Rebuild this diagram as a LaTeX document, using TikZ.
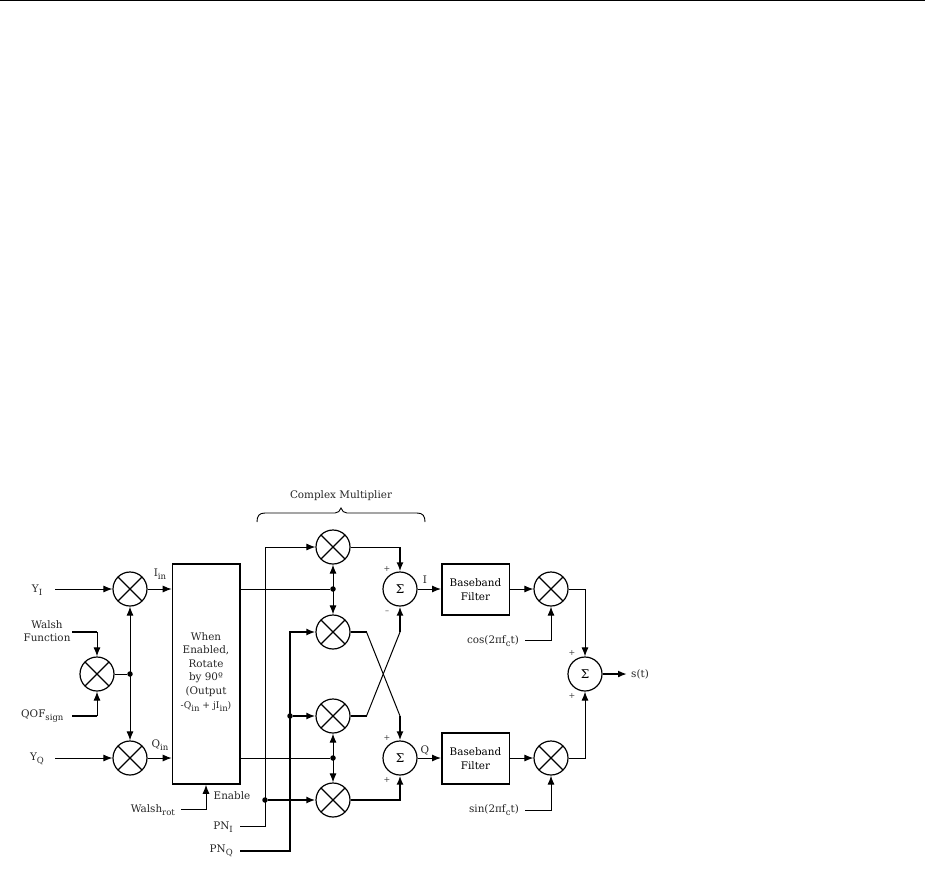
\documentclass[tikz,border=0pt]{standalone}
\usepackage{fontspec}
\setmainfont{DejaVu Serif}
\usetikzlibrary{arrows.meta}
\newcommand{\lowtx}[1]{\raisebox{-0.55ex}{\fontsize{8.5pt}{9pt}\selectfont #1}}
\tikzset{
  x=1pt,y=-1pt,
  thinw/.style={line width=1pt},
  thickw/.style={line width=2pt},
  arr/.style={-{Latex[length=9pt,width=7pt]}},
  darr/.style={{Latex[length=9pt,width=7pt]}-{Latex[length=9pt,width=7pt]},thinw},
  mult/.style={circle,draw,line width=1.2pt,minimum size=34pt,inner sep=0pt,
    path picture={\draw[line width=1.2pt] (path picture bounding box.north west)--(path picture bounding box.south east)
      (path picture bounding box.north east)--(path picture bounding box.south west);}},
  summ/.style={circle,draw,line width=1.2pt,minimum size=34pt,inner sep=0pt,font=\fontsize{12pt}{14pt}\selectfont},
  blk/.style={draw,line width=1.5pt,inner sep=0pt,align=center},
  lab/.style={inner sep=0pt,font=\fontsize{10.4pt}{13.5pt}\selectfont,text=black!85},
  sgn/.style={inner sep=0pt,font=\fontsize{8pt}{9pt}\selectfont,text=black!75},
  dotn/.style={circle,fill=black,inner sep=0pt,minimum size=5.5pt},
}
\begin{document}
\begin{tikzpicture}
\useasboundingbox (0,0) rectangle (925,870);
\coordinate (rl) at (0,0.8); \coordinate (rr) at (925,0.8);
\draw[line width=1.2pt] (rl)--(rr);
% multipliers
\node[mult] (m1) at (130,589) {};
\node[mult] (m2) at (97,674) {};
\node[mult] (m3) at (130,758) {};
\node[mult] (c1) at (333,547) {};
\node[mult] (c2) at (333,632) {};
\node[mult] (c3) at (333,716) {};
\node[mult] (c4) at (333,800) {};
\node[mult] (m5) at (551,589) {};
\node[mult] (m6) at (551,758) {};
% sums
\node[summ] (s1) at (400,589) {Σ};
\node[summ] (s2) at (400,758) {Σ};
\node[summ] (s3) at (585,674) {Σ};
% boxes
\node[blk,minimum width=67.5pt,minimum height=220pt] (rot) at (206.2,674) {};
\node[blk,minimum width=67.5pt,minimum height=51pt,lab,text=black] (b1) at (475.5,589.5) {Baseband\\[0pt]Filter};
\node[blk,minimum width=67.5pt,minimum height=51pt,lab,text=black] (b2) at (475.5,758.5) {Baseband\\[0pt]Filter};
\node[lab,align=center,anchor=north] (rottxt) at (206,632) {When\\Enabled,\\Rotate\\by 90º\\(Output\\[1pt]{\fontsize{9.2pt}{10pt}\selectfont -Q\lowtx{in} + jI\lowtx{in})}};
% input labels
\node[lab] (yi) at (37,590) {Y\lowtx{I}};
\node[lab] (yq) at (37,759) {Y\lowtx{Q}};
\node[lab,align=center] (wf) at (47,631) {Walsh\\[0pt]Function};
\node[lab,anchor=west] (qof) at (21,716) {QOF\lowtx{sign}};
\node[lab] (iin) at (160,574) {I\lowtx{in}};
\node[lab] (qin) at (160,745) {Q\lowtx{in}};
\node[lab] (en) at (232,796) {Enable};
\node[lab,anchor=east] (wr) at (175,810) {Walsh\lowtx{rot}};
\node[lab,anchor=east] (pni) at (233,827) {PN\lowtx{I}};
\node[lab,anchor=east] (pnq) at (233,851) {PN\lowtx{Q}};
\node[lab] (cm) at (341,496) {Complex Multiplier};
\node[lab] (il) at (425,580) {I};
\node[lab] (ql) at (425,750) {Q};
\node[lab,anchor=east] (cosl) at (519,641) {cos(2πf\lowtx{c}t)};
\node[lab,anchor=east] (sinl) at (519,810) {sin(2πf\lowtx{c}t)};
\node[lab,anchor=west] (st) at (631,674) {s(t)};
% signs
\node[sgn] (p1) at (387,569) {+};
\node[sgn] (p2) at (387,612) {–};
\node[sgn] (p3) at (387,738) {+};
\node[sgn] (p4) at (387,780) {+};
\node[sgn] (p5) at (572,653) {+};
\node[sgn] (p6) at (572,696) {+};
% free ends and junctions
\coordinate (yia) at (55,589);
\coordinate (yqa) at (55,758);
\coordinate (wfa) at (72,632);
\coordinate (qofa) at (72,716);
\coordinate (wra) at (181,809);
\coordinate (pnia) at (240,826);
\coordinate (pnqa) at (240,851);
\coordinate (cosa) at (525,640);
\coordinate (sina) at (525,810);
\node[dotn] (j0) at (130,674) {};
\node[dotn] (j1) at (333,589) {};
\node[dotn] (j2) at (333,758) {};
\node[dotn] (j3) at (265,800) {};
\node[dotn] (j4) at (290,716) {};
\coordinate (ste) at (627,674);
% connectors
\draw[thinw,arr] (yia)--(m1);
\draw[thinw,arr] (yqa)--(m3);
\draw[thickw] (wfa)--(97,632);
\draw[thinw,arr] (97,632)--(m2);
\draw[thickw] (qofa)--(97,716);
\draw[thinw,arr] (97,716)--(m2);
\draw[thinw] (m2)--(j0);
\draw[darr] (m1)--(m3);
\draw[thinw,arr] (m1.east)--(rot.west|-m1);
\draw[thinw,arr] (m3.east)--(rot.west|-m3);
\draw[thinw,arr] (wra)-|(rot.south-|206,0);
\draw[thinw] (rot.east|-j1)--(j1);
\draw[thinw] (rot.east|-j2)--(j2);
\draw[darr] (c1)--(c2);
\draw[darr] (c3)--(c4);
\draw[thinw,arr] (pnia)-|(265,547)--(c1);
\draw[thickw,arr] (j3)--(c4);
\draw[thickw,arr] (pnqa)-|(290,632)--(c2);
\draw[thickw,arr] (j4)--(c3);
\draw[thinw] (c1)-|(400,560);
\draw[thickw,arr] (400,547)--(s1);
\draw[thickw] (c2)--(366.5,632);
\draw[thinw] (366.5,632)--(400,716);
\draw[thickw,arr] (400,716)--(s2);
\draw[thickw] (c3)--(366.5,716);
\draw[thinw] (366.5,716)--(400,632);
\draw[thickw,arr] (400,632)--(s1);
\draw[thickw,arr] (c4)-|(s2);
\draw[thinw,arr] (s1)--(b1.west|-s1);
\draw[thinw,arr] (s2)--(b2.west|-s2);
\draw[thinw,arr] (b1.east|-m5)--(m5);
\draw[thinw,arr] (b2.east|-m6)--(m6);
\draw[thinw,arr] (cosa)-|(m5);
\draw[thinw,arr] (sina)-|(m6);
\draw[thinw,arr] (m5)-|(s3);
\draw[thinw,arr] (m6)-|(s3);
\draw[thickw,arr] (s3)--(ste);
% brace
\draw[line width=0.9pt] (257,522) .. controls (257,516) and (259,513) .. (265,513) -- (335,513) .. controls (338,513) and (340,511) .. (341,508) .. controls (342,511) and (344,513) .. (347,513) -- (417,513) .. controls (423,513) and (425,516) .. (425,522);
\end{tikzpicture}
\end{document}
